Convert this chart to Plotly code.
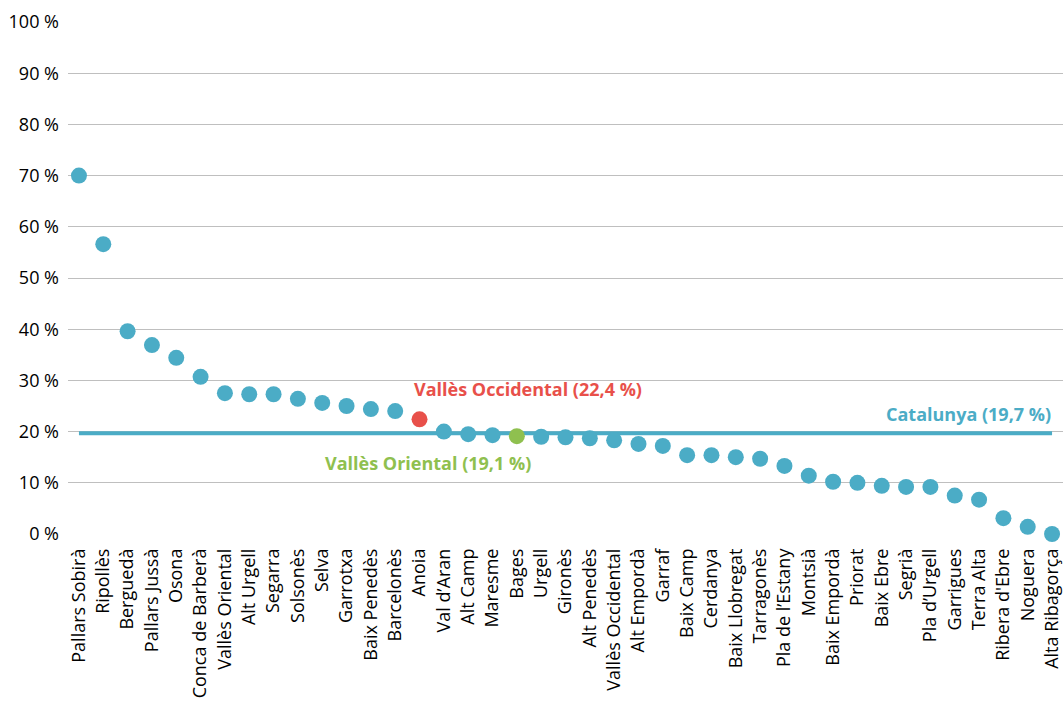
import plotly.graph_objects as go

categories = ["Pallars Sobirà", "Ripollès", "Berguedà", "Pallars Jussà", "Osona",
              "Conca de Barberà", "Vallès Oriental", "Alt Urgell", "Segarra", "Solsonès",
              "Selva", "Garrotxa", "Baix Penedès", "Barcelonès", "Anoia", "Val d’Aran",
              "Alt Camp", "Maresme", "Bages", "Urgell", "Gironès", "Alt Penedès",
              "Vallès Occidental", "Alt Empordà", "Garraf", "Baix Camp", "Cerdanya",
              "Baix Llobregat", "Tarragonès", "Pla de l’Estany", "Montsià", "Baix Empordà",
              "Priorat", "Baix Ebre", "Segrià", "Pla d’Urgell", "Garrigues", "Terra Alta",
              "Ribera d'Ebre", "Noguera", "Alta Ribagorça"]
values = [70.0, 56.6, 39.6, 36.9, 34.4, 30.7, 27.5, 27.3, 27.3, 26.4,
          25.6, 25.0, 24.4, 24.0, 22.4, 20.0, 19.5, 19.3, 19.1, 19.0,
          18.9, 18.7, 18.3, 17.6, 17.2, 15.4, 15.4, 15.0, 14.7, 13.3,
          11.4, 10.2, 10.0, 9.4, 9.2, 9.2, 7.5, 6.7, 3.1, 1.4, 0.0]
catalunya_value = 19.7
highlight_occ_index = 14
highlight_ori_index = 18
y_ticks = [0, 10, 20, 30, 40, 50, 60, 70, 80, 90, 100]
y_tick_labels = [f"{v} %" for v in y_ticks]

BLUE = "#4BACC6"
RED = "#E8504A"
GREEN = "#8FC04F"

colors = [BLUE] * len(values)
colors[highlight_occ_index] = RED
colors[highlight_ori_index] = GREEN

fig = go.Figure()
fig.add_trace(go.Scatter(
    x=[categories[0], categories[-1]], y=[catalunya_value, catalunya_value],
    mode="lines", line=dict(color=BLUE, width=4), hoverinfo="skip", showlegend=False))
fig.add_trace(go.Scatter(
    x=categories, y=values, mode="markers",
    marker=dict(size=16, color=colors, line=dict(width=0)),
    showlegend=False, cliponaxis=False))

font_family = "Open Sans, sans-serif"
fig.add_annotation(x=13.7, y=values[highlight_occ_index], yshift=30, xref="x", yref="y",
                   text="<b>Vallès Occidental (22,4 %)</b>", showarrow=False, xanchor="left",
                   font=dict(color=RED, size=18, family=font_family))
fig.add_annotation(x=10.03, y=values[highlight_ori_index], yshift=-27, xref="x", yref="y",
                   text="<b>Vallès Oriental (19,1 %)</b>", showarrow=False, xanchor="left",
                   font=dict(color=GREEN, size=18, family=font_family))
fig.add_annotation(x=40.05, y=catalunya_value, yshift=19, xref="x", yref="y",
                   text="<b>Catalunya (19,7 %)</b>", showarrow=False, xanchor="right",
                   font=dict(color=BLUE, size=18, family=font_family))

fig.update_layout(
    width=1063, height=705,
    margin=dict(l=68, r=0, t=22, b=171),
    plot_bgcolor="white", paper_bgcolor="white",
    font=dict(family=font_family, size=18, color="#000000"),
    xaxis=dict(type="category", categoryorder="array", categoryarray=categories,
               range=[-0.45, 40.45], tickangle=-90, showgrid=False,
               showline=False, ticks="", zeroline=False, tickfont=dict(size=18),
               ticklabelstandoff=10),
    yaxis=dict(range=[0, 100], tickvals=y_ticks, ticktext=y_tick_labels,
               showgrid=True, gridcolor="#BFBFBF", gridwidth=1, zeroline=False,
               ticks="", showline=False, tickfont=dict(size=18), ticklabelstandoff=8),
)

fig.write_html("out.html", config={"displayModeBar": False},
               post_script="document.body.style.margin='0';document.body.style.overflow='hidden';")
